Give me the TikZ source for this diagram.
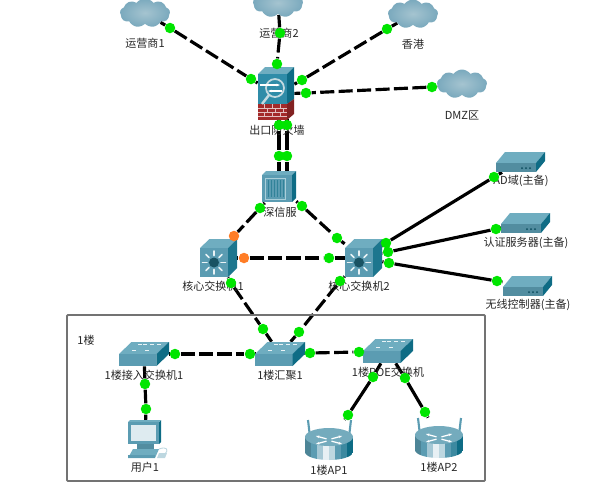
\documentclass[tikz,border=0pt]{standalone}
\usepackage{fontspec}
\setmainfont{Noto Sans CJK SC}
\usepackage{tikz}
\usetikzlibrary{arrows.meta, positioning, shapes.symbols, backgrounds}
\definecolor{devtop}{HTML}{6FADC0}
\definecolor{devfront}{HTML}{5B9CB2}
\definecolor{devside}{HTML}{0E6C85}
\definecolor{fwfront}{HTML}{2F8CA8}
\definecolor{brick}{HTML}{A32A2A}
\definecolor{cloudin}{HTML}{A5C4D0}
\definecolor{cloudout}{HTML}{7AA9BD}
\tikzset{
  devbox/.style 2 args={minimum width=#1*0.02cm, minimum height=#2*0.02cm, inner sep=0pt},
  lbl/.style={font=\fontsize{6.3}{7}\selectfont, text=black!85, inner sep=0.5pt},
  okdot/.style={circle, fill=green!90!black, inner sep=0pt, minimum size=0.21cm},
  warndot/.style={circle, fill=orange!80!red!85!white, inner sep=0pt, minimum size=0.21cm},
  wan/.style={line width=1.8pt, dash pattern=on 8pt off 2.5pt},
  lan/.style={line width=1.8pt},
  cloudnode/.style={cloud, cloud puffs=9, cloud puff arc=110, aspect=1.8, inner sep=0pt,
    minimum width=1cm, minimum height=0.58cm, inner color=cloudin, outer color=cloudout},
  switchicon/.pic={
    \fill[devtop] (-25,0) -- (-12.5,-12) -- (25,-12) -- (12.5,0) -- cycle;
    \fill[devfront] (-25,0) rectangle (12.5,12);
    \fill[devside] (12.5,0) -- (25,-12) -- (25,0) -- (12.5,12) -- cycle;
    \foreach \x/\y in {-12/-3, 1/-3, -6/-9, 6/-9, 13/-9, -1/-9}
      \fill[white!85!devtop] (\x,\y) rectangle ++(4,-1.2);
  },
  servericon/.pic={
    \fill[devtop] (-24,1) -- (-15,-10) -- (25,-10) -- (16,1) -- cycle;
    \fill[devfront!90!black] (-24,1) rectangle (16,10);
    \fill[devside] (16,1) -- (25,-10) -- (25,-1) -- (16,10) -- cycle;
    \foreach \x in {2,6,10} \fill[devside!70!black] (\x,6) circle (1);
  },
  coreicon/.pic={
    \fill[devtop] (-18.5,-10) -- (-9,-19) -- (18.5,-19) -- (9.5,-10) -- cycle;
    \fill[devfront] (-18.5,-10) rectangle (9.5,19);
    \fill[devside!80!devfront] (9.5,-10) -- (18.5,-19) -- (18.5,10) -- (9.5,19) -- cycle;
    \foreach \r in {0,45,...,315}
      \draw[white!85!devtop, line width=0.9pt, line cap=round, shift={(-4.5,4.5)}] (\r:7) -- (\r:11.5);
    \fill[devside!60!black!80!devfront] (-4.5,4.5) circle (5);
  },
  firewallicon/.pic={
    \fill[devtop] (-18,-20) -- (-11,-27) -- (18,-27) -- (11,-20) -- cycle;
    \fill[fwfront] (-18,-20) rectangle (11,10);
    \fill[devside] (11,-20) -- (18,-27) -- (18,5) -- (11,10) -- cycle;
    \fill[brick] (-18,10) rectangle (11,26);
    \fill[brick!80!black] (11,10) -- (18,5) -- (18,20) -- (11,26) -- cycle;
    \foreach \y in {14,18,22} \draw[white!70!brick, line width=0.3pt] (-18,\y) -- (11,\y);
    \foreach \x in {-12,-4,4} \draw[white!70!brick, line width=0.3pt] (\x,10) -- (\x,14) (\x+3,14) -- (\x+3,18) (\x,18) -- (\x,22);
    \draw[white!75!devside, line width=1pt] (-1,-6) circle (9);
    \draw[white!75!devside, line width=1.4pt] (-7,1) -- (-14,10);
    \draw[white, line width=0.6pt, -{Stealth[length=2pt]}] (-16,-9) -- (4,-9);
    \draw[white, line width=0.6pt, -{Stealth[length=2pt]}] (6,-3) -- (-8,-3);
  },
  boxicon/.pic={
    \fill[devtop] (-17,-12) -- (-13,-16) -- (17,-16) -- (13,-12) -- cycle;
    \fill[devfront] (-17,-12) rectangle (13,15);
    \fill[devside] (13,-12) -- (17,-16) -- (17,11) -- (13,15) -- cycle;
    \draw[devtop!60!white, line width=0.4pt] (-14,-9) rectangle (6,12);
    \foreach \x in {-11,-8,...,4} \draw[devside!55!devfront, line width=0.4pt] (\x,-7) -- (\x,10);
  },
  pcicon/.pic={
    \fill[devside] (14,-18) -- (16,-20) -- (16,2) -- (14,4) -- cycle;
    \fill[devtop] (-17,-18) -- (-15,-20) -- (16,-20) -- (14,-18) -- cycle;
    \fill[devfront] (-17,-18) rectangle (14,4);
    \fill[white!80!devfront] (-14,-15) rectangle (11,1);
    \fill[devfront!90!black] (-8,4) rectangle (9,9);
    \fill[devtop] (-17,18) -- (-12,9) -- (14,9) -- (10,18) -- cycle;
    \fill[devfront] (-17,18) rectangle (10,15);
    \draw[white!60!devfront, line width=0.5pt] (14,9) .. controls (22,6) and (24,10) .. (20,14);
    \fill[white!60!devfront] (14,13) -- (22,13) -- (20,18) -- (12,18) -- cycle;
  },
  routericon/.pic={
    \draw[devfront, line width=1.2pt] (-21,-20) -- (-19,-3);
    \draw[devfront, line width=1.2pt] (22,-20) -- (20,-3);
    \begin{scope}
      \clip (-24,-3) -- (-24,12) arc[start angle=180, end angle=0, x radius=24, y radius=8] -- (24,-3) -- cycle;
      \foreach \x/\c in {-24/devfront!85!black, -18/devfront, -12/white!45!devfront, -6/white!85!devfront,
          0/white!60!devfront, 6/devfront, 12/devfront!60!devside, 18/devside}
        \fill[\c] (\x,-4) rectangle (\x+6.4,22);
    \end{scope}
    \fill[devfront!85!white] (0,-3) ellipse (24 and 9);
    \foreach \r in {35,145,215,325}
      \draw[white, line width=0.7pt, -{Stealth[length=2pt]}] (\r:3 and 2) -- (\r:16 and 7);
  }
}
\begin{document}
\begin{tikzpicture}[x=0.02cm, y=-0.02cm]
  \useasboundingbox (0,0) rectangle (593,485);
  \draw[line width=1.1pt, black!55, rounded corners=0.5pt] (67,315) rectangle (485,481);
  \node[lbl] (floorlbl) at (86,340) {1楼};

  % devices
  \node[cloudnode] (isp1) at (145,13) {};
  \node[cloudnode] (isp2) at (278,3) {};
  \node[cloudnode] (hk) at (413,14) {};
  \node[cloudnode] (dmz) at (462,84) {};
  \node[devbox={36}{53}] (fw) at (276,94) {};
  \node[devbox={34}{31}] (sxf) at (279,187) {};
  \node[devbox={37}{38}] (core1) at (218.5,258) {};
  \node[devbox={37}{38}] (core2) at (363.5,258) {};
  \node[devbox={49}{20}] (ad) at (520,162) {};
  \node[devbox={49}{20}] (auth) at (525,223) {};
  \node[devbox={49}{20}] (wlc) at (527,286) {};
  \node[devbox={50}{24}] (acc) at (144,354) {};
  \node[devbox={50}{24}] (agg) at (280,354) {};
  \node[devbox={50}{24}] (poe) at (388,351) {};
  \node[devbox={33}{37}] (pc) at (145,440) {};
  \node[devbox={48}{40}] (ap1) at (329,440) {};
  \node[devbox={48}{40}] (ap2) at (439,438) {};
  \foreach \n/\t in {fw/firewallicon, sxf/boxicon, core1/coreicon, core2/coreicon,
      ad/servericon, auth/servericon, wlc/servericon, acc/switchicon, agg/switchicon,
      poe/switchicon, pc/pcicon, ap1/routericon, ap2/routericon}
    \pic at (\n) {\t};

  % labels
  \foreach \n/\x/\y/\t in {lisp1/145/43/运营商1, lisp2/279/33/运营商2, lhk/413/44/香港, ldmz/462/115/DMZ区,
      lfw/277/130/出口防火墙, lsxf/280/212/深信服, lcore1/213/286/核心交换机1, lcore2/359/286/核心交换机2,
      lad/521/181/AD域(主备), lauth/526/243/认证服务器(主备), lwlc/528/305/无线控制器(主备),
      lacc/144/375/1楼接入交换机1, lagg/280/375/1楼汇聚1, lpoe/388/372/1楼POE交换机,
      lpc/145/467/用户1, lap1/329/470/1楼AP1, lap2/439/467/1楼AP2}
    \node[lbl] (\n) at (\x,\y) {\t};

  % ports
  \foreach \n/\x/\y in {a1/170/28, a2/251/79, b1/280/33, b2/277/64, c1/387/29, c2/302/80,
      e1/432/87, e2/306/93, f1/279/125, f2/279/156, g1/287/125, g2/287/156,
      h1/260/208, i1/302/206, i2/337/238, j2/329/258,
      k1/386/243, k2/494/177, l1/388/252, l2/496/229, m1/389/263, m2/497/281,
      n1/231/283, n2/263/329, o1/340/281, o2/299/332, p1/175/354, p2/250/354,
      q1/310/353, q2/359/352, r1/145/384, r2/146/409, s1/373/377, s2/348/415,
      t1/405/378, t2/425/412}
    \node[okdot] (\n) at (\x,\y) {};
  \node[warndot] (h2) at (234,236) {};
  \node[warndot] (j1) at (244,258) {};

  % links
  \begin{scope}[on background layer]
    \foreach \a/\b/\c/\d in {isp1/a1/a2/fw, isp2/b1/b2/fw, hk/c1/c2/fw, dmz/e1/e2/fw,
        sxf/h1/h2/core1, sxf/i1/i2/core2, core1/j1/j2/core2, core1/n1/n2/agg, core2/o1/o2/agg,
        acc/p1/p2/agg, agg/q1/q2/poe}
      \draw[wan] (\a) -- (\b) -- (\c) -- (\d);
    \foreach \a/\b/\c/\d in {core2/k1/k2/ad, core2/l1/l2/auth,
        core2/m1/m2/wlc, acc/r1/r2/pc, poe/s1/s2/ap1, poe/t1/t2/ap2}
      \draw[lan] (\a) -- (\b) -- (\c) -- (\d);
    \foreach \b/\c in {f1/f2, g1/g2}
      \draw[lan] (\b |- fw.south) -- (\b) -- (\c) -- (\c |- sxf.north);
  \end{scope}
\end{tikzpicture}
\end{document}
